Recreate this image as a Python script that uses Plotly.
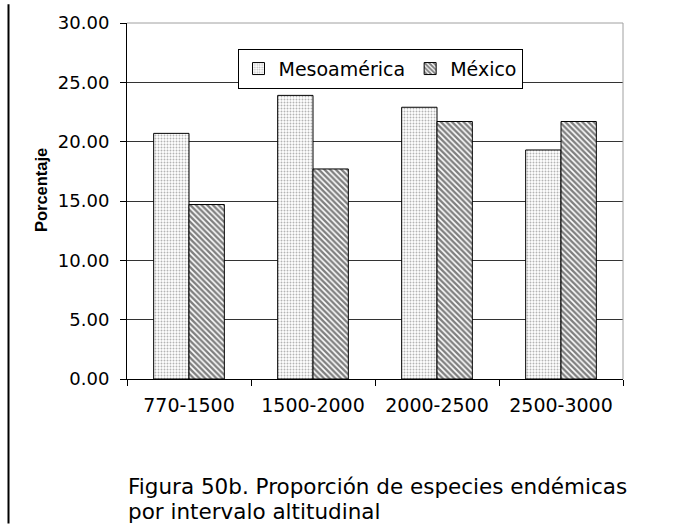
import plotly.graph_objects as go

# Altitudinal intervals and percentage of endemic species
intervalos = ["770-1500", "1500-2000", "2000-2500", "2500-3000"]
mesoamerica = [20.7, 23.9, 22.9, 19.3]
mexico = [14.7, 17.7, 21.7, 21.7]
y_ticks = [0, 5, 10, 15, 20, 25, 30]

W, H = 673, 525
ML, MR, MT, MB = 127, 50, 19, 146
PW = W - ML - MR
PH = H - MT - MB

def px_x(x):
    return (x - ML) / PW

def px_y(y):
    return (H - MB - y) / PH

fig = go.Figure()
fig.add_trace(go.Bar(
    name="Mesoamérica", x=intervalos, y=mesoamerica,
    marker=dict(color="white", line=dict(color="black", width=1),
                pattern=dict(shape=".", fgcolor="#6a6a6a", bgcolor="white",
                             size=3, solidity=0.32)),
))
fig.add_trace(go.Bar(
    name="México", x=intervalos, y=mexico,
    marker=dict(color="white", line=dict(color="black", width=1),
                pattern=dict(shape="\\", fgcolor="black", bgcolor="white",
                             size=4, solidity=0.6)),
))

font_h = "DejaVu Sans"
fig.update_layout(
    width=W, height=H,
    margin=dict(l=ML, r=MR, t=MT, b=MB),
    paper_bgcolor="white", plot_bgcolor="white",
    barmode="group", bargap=0.43, bargroupgap=0,
    font=dict(family=font_h, color="black"),
    showlegend=True,
    legend=dict(
        orientation="h", x=px_x(380), y=px_y(45), xanchor="center", yanchor="top",
        bordercolor="black", borderwidth=1, bgcolor="white",
        font=dict(family=font_h, size=19, color="black"),
        itemwidth=30, traceorder="normal",
    ),
    xaxis=dict(
        showline=True, linecolor="black", linewidth=1,
        ticks="outside", ticklen=6, tickcolor="black", tickson="boundaries",
        tickfont=dict(family=font_h, size=19, color="black"),
        ticklabelstandoff=9,
        showgrid=False, fixedrange=True,
    ),
    yaxis=dict(
        range=[0, 30], tickvals=y_ticks, tickformat=".2f",
        showline=True, linecolor="black", linewidth=1,
        ticks="outside", ticklen=6, tickcolor="black",
        tickfont=dict(family=font_h, size=18, color="black"),
        ticklabelstandoff=7,
        showgrid=True, gridcolor="#333333", gridwidth=1,
        zeroline=False, fixedrange=True,
    ),
    shapes=[
        # plot-area border on top and right
        dict(type="line", xref="paper", yref="paper", x0=0, x1=1, y0=1, y1=1,
             line=dict(color="#a0a0a0", width=1), layer="above"),
        dict(type="line", xref="paper", yref="paper", x0=1, x1=1, y0=0, y1=1,
             line=dict(color="#a0a0a0", width=1), layer="above"),
        # frame line at the left of the figure
        dict(type="line", xref="paper", yref="paper", x0=px_x(8.5), x1=px_x(8.5),
             y0=px_y(0), y1=px_y(H), line=dict(color="black", width=2)),
    ],
    annotations=[
        dict(text="<b>Porcentaje</b>", textangle=-90, xref="paper", yref="paper",
             x=px_x(41), y=px_y(188), xanchor="center", yanchor="middle",
             showarrow=False, font=dict(family="Liberation Sans", size=16.5, color="black")),
        dict(text="Figura 50b. Proporción de especies endémicas",
             xref="paper", yref="paper", x=px_x(126), y=px_y(488),
             xanchor="left", yanchor="middle", align="left", showarrow=False,
             font=dict(family=font_h, size=21.5, color="black")),
        dict(text="por intervalo altitudinal",
             xref="paper", yref="paper", x=px_x(126), y=px_y(512.5),
             xanchor="left", yanchor="middle", align="left", showarrow=False,
             font=dict(family=font_h, size=21.5, color="black")),
    ],
)

fig.write_html("out.html")
